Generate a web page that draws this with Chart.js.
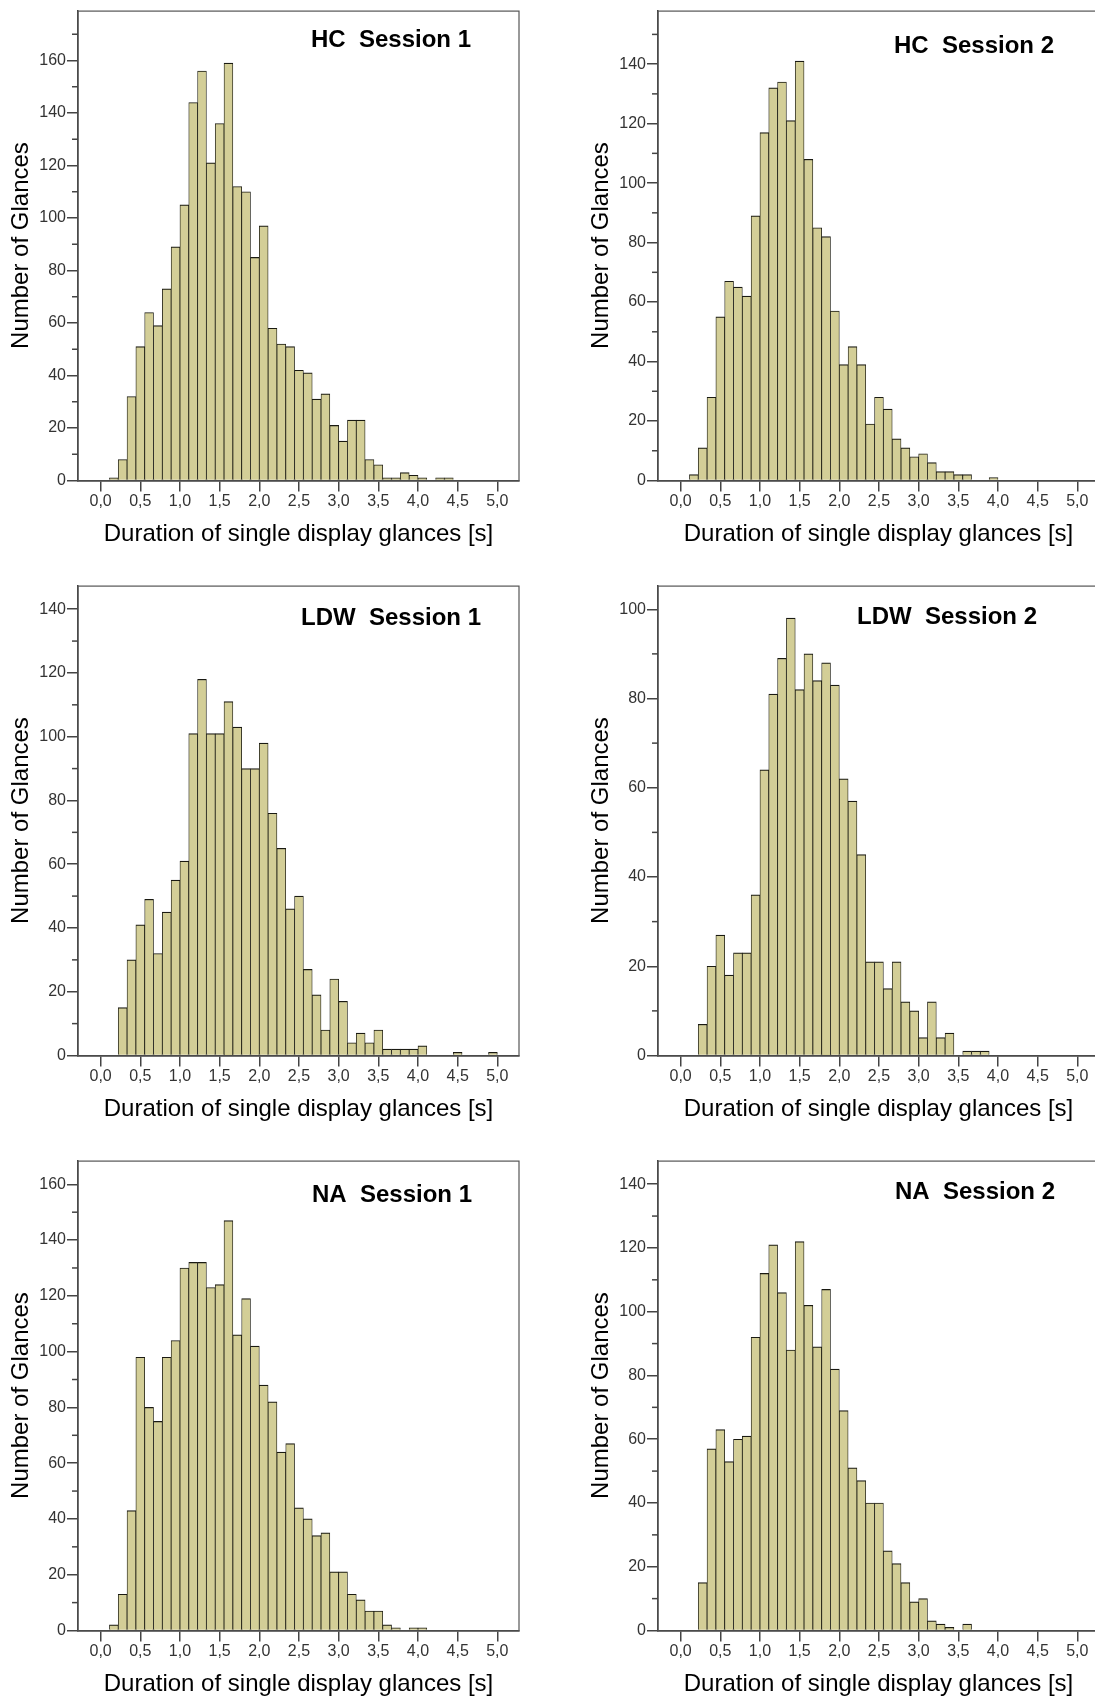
<!DOCTYPE html>
<html>
<head>
<meta charset="utf-8">
<script src="https://cdn.jsdelivr.net/npm/chart.js@4.4.1/dist/chart.umd.min.js"></script>
<style>
  html, body { margin: 0; padding: 0; background: #fff; overflow: hidden; }
  body { width: 1095px; height: 1699px; position: relative; }
  .panel { position: absolute; width: 580px; height: 560px; }
</style>
</head>
<body>
<div class="panel" style="left:0;top:0"><canvas id="c0" width="580" height="560"></canvas></div>
<div class="panel" style="left:580px;top:0"><canvas id="c1" width="580" height="560"></canvas></div>
<div class="panel" style="left:0;top:575px"><canvas id="c2" width="580" height="560"></canvas></div>
<div class="panel" style="left:580px;top:575px"><canvas id="c3" width="580" height="560"></canvas></div>
<div class="panel" style="left:0;top:1150px"><canvas id="c4" width="580" height="560"></canvas></div>
<div class="panel" style="left:580px;top:1150px"><canvas id="c5" width="580" height="560"></canvas></div>
<script>
// histogram bins of 1/9 s, first bin starts at 0,0 s
const binWidth = 5 / 45;

// counts per bin
const hcSession1  = [0, 1, 8, 32, 51, 64, 59, 73, 89, 105, 144, 156, 121, 136, 159, 112, 110, 85, 97, 58, 52, 51, 42, 41, 31, 33, 21, 15, 23, 23, 8, 6, 1, 1, 3, 2, 1, 0, 1, 1, 0];
const hcSession2  = [0, 2, 11, 28, 55, 67, 65, 62, 89, 117, 132, 134, 121, 141, 108, 85, 82, 57, 39, 45, 39, 19, 28, 24, 14, 11, 8, 9, 6, 3, 3, 2, 2, 0, 0, 1, 0];
const ldwSession1 = [0, 0, 15, 30, 41, 49, 32, 45, 55, 61, 101, 118, 101, 101, 111, 103, 90, 90, 98, 76, 65, 46, 50, 27, 19, 8, 24, 17, 4, 7, 4, 8, 2, 2, 2, 2, 3, 0, 0, 0, 1, 0, 0, 0, 1, 0];
const ldwSession2 = [0, 0, 7, 20, 27, 18, 23, 23, 36, 64, 81, 89, 98, 82, 90, 84, 88, 83, 62, 57, 45, 21, 21, 15, 21, 12, 10, 4, 12, 4, 5, 0, 1, 1, 1, 0];
const naSession1  = [0, 2, 13, 43, 98, 80, 75, 98, 104, 130, 132, 132, 123, 124, 147, 106, 119, 102, 88, 82, 64, 67, 44, 40, 34, 35, 21, 21, 13, 11, 7, 7, 2, 1, 0, 1, 1, 0];
const naSession2  = [0, 0, 15, 57, 63, 53, 60, 61, 92, 112, 121, 106, 88, 122, 102, 89, 107, 82, 69, 51, 47, 40, 40, 25, 21, 15, 9, 10, 3, 2, 1, 0, 2, 0];

const xTickValues = [0, 0.5, 1, 1.5, 2, 2.5, 3, 3.5, 4, 4.5, 5];
const xTickLabels = ['0,0', '0,5', '1,0', '1,5', '2,0', '2,5', '3,0', '3,5', '4,0', '4,5', '5,0'];
const yTickStep = 20;

const xTitle = 'Duration of single display glances [s]';
const yTitle = 'Number of Glances';

const panels = [
  { id: 'c0', title: 'HC  Session 1',  counts: hcSession1,  yMax: 179,   titleX: 391, titleY: 47 },
  { id: 'c1', title: 'HC  Session 2',  counts: hcSession2,  yMax: 158,   titleX: 394, titleY: 52.5 },
  { id: 'c2', title: 'LDW  Session 1', counts: ldwSession1, yMax: 147.4, titleX: 391, titleY: 49.5 },
  { id: 'c3', title: 'LDW  Session 2', counts: ldwSession2, yMax: 105.3, titleX: 367, titleY: 48.5 },
  { id: 'c4', title: 'NA  Session 1',  counts: naSession1,  yMax: 168.5, titleX: 392, titleY: 51.5 },
  { id: 'c5', title: 'NA  Session 2',  counts: naSession2,  yMax: 147.4, titleX: 395, titleY: 48.5 }
];

Chart.defaults.font.family = '"Liberation Sans", Arial, sans-serif';

// frame around the plot, minor y ticks and the panel title
const panelFrame = {
  id: 'panelFrame',
  beforeDatasetsDraw(chart) {
    const { ctx, chartArea: a } = chart;
    ctx.save();
    ctx.strokeStyle = '#555';
    ctx.lineWidth = 1.2;
    ctx.strokeRect(a.left, a.top + 0.5, a.right - a.left, a.bottom - a.top);
    ctx.restore();
  },
  afterDraw(chart, args, opts) {
    const { ctx, chartArea: a, scales: { y } } = chart;
    ctx.save();
    ctx.strokeStyle = '#444';
    ctx.lineWidth = 1.5;
    for (let v = yTickStep / 2; v < y.max; v += yTickStep) {
      const py = y.getPixelForValue(v);
      ctx.beginPath();
      ctx.moveTo(a.left - 6, py);
      ctx.lineTo(a.left, py);
      ctx.stroke();
    }
    ctx.fillStyle = '#000';
    ctx.font = 'bold 24px "Liberation Sans", Arial, sans-serif';
    ctx.textAlign = 'center';
    ctx.textBaseline = 'alphabetic';
    ctx.fillText(opts.text, opts.x, opts.y);
    ctx.restore();
  }
};

panels.forEach(p => {
  new Chart(document.getElementById(p.id), {
    type: 'bar',
    data: {
      datasets: [{
        data: p.counts.map((c, i) => ({ x: (i + 0.5) * binWidth, y: c })),
        backgroundColor: '#d3ce97',
        borderColor: '#1a1a12',
        borderWidth: { top: 1.2, left: 0.8, right: 0.8, bottom: 0 },
        barPercentage: 1,
        categoryPercentage: 1
      }]
    },
    options: {
      responsive: false,
      animation: false,
      events: [],
      layout: { padding: { top: 8, right: 61, bottom: 0, left: 0 } },
      plugins: {
        legend: { display: false },
        tooltip: { enabled: false },
        panelFrame: { text: p.title, x: p.titleX, y: p.titleY }
      },
      scales: {
        x: {
          type: 'linear',
          min: -0.285,
          max: 5.273,
          offset: false,
          afterBuildTicks: s => { s.ticks = xTickValues.map(v => ({ value: v })); },
          afterFit: s => { s.height = 79.5; },
          grid: { drawOnChartArea: false, offset: false, tickLength: 11, color: '#444', lineWidth: 1.5 },
          border: { color: '#3a3a3a', width: 1.5 },
          ticks: {
            padding: 0, color: '#333', font: { size: 16 }, maxRotation: 0, autoSkip: false,
            callback: (v, i) => xTickLabels[i]
          },
          title: { display: true, text: xTitle, color: '#000', font: { size: 24 }, padding: { top: 0, bottom: 11.6 } }
        },
        y: {
          min: 0,
          max: p.yMax,
          afterBuildTicks: s => {
            const t = [];
            for (let v = 0; v <= s.max; v += yTickStep) t.push({ value: v });
            s.ticks = t;
          },
          afterFit: s => { s.width = 78; },
          grid: { drawOnChartArea: false, tickLength: 11, color: '#444', lineWidth: 1.5 },
          border: { color: '#3a3a3a', width: 1.5 },
          ticks: { padding: 1, color: '#333', font: { size: 16 } },
          title: { display: true, text: yTitle, color: '#000', font: { size: 24 }, padding: { top: 7, bottom: 0 } }
        }
      }
    },
    plugins: [panelFrame]
  });
});
</script>
</body>
</html>
